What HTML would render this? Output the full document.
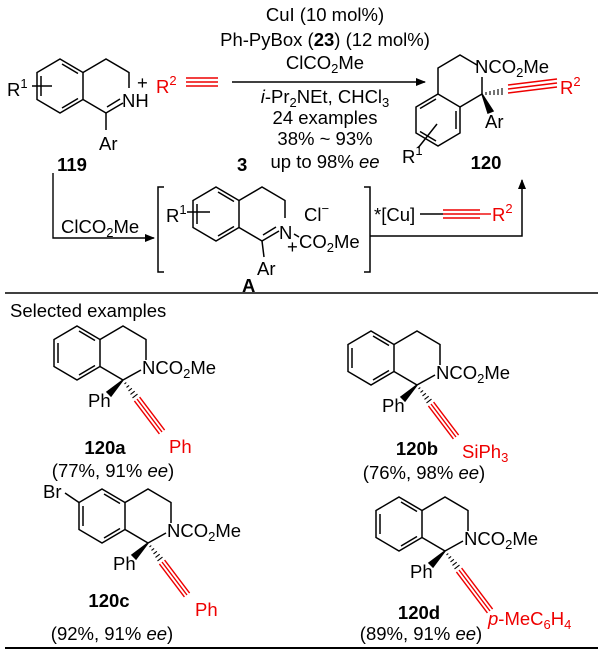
<!DOCTYPE html>
<html><head><meta charset="utf-8"><style>
html,body{margin:0;padding:0;background:#fff;}
svg{display:block;font-family:"Liberation Sans",Arial,sans-serif;}
text{font-size:18.5px;fill:#000;}
.r{fill:#e00;}
.b{font-weight:bold;}
</style></head><body>
<svg width="600" height="655" viewBox="0 0 600 655" xmlns="http://www.w3.org/2000/svg">
<defs>
<marker id="ah" markerWidth="10" markerHeight="8" refX="9" refY="4" orient="auto" markerUnits="userSpaceOnUse">
<path d="M0,0 L10,4 L0,8 z" fill="#000"/></marker>
<g id="core" stroke="#000" stroke-width="1.5" fill="none">
<polygon points="77,326 100,339.5 100,366.5 77,380 54,366.5 54,339.5"/>
<line x1="58" y1="343" x2="58" y2="363"/>
<line x1="79" y1="331" x2="95" y2="340.5"/>
<line x1="79" y1="375" x2="95" y2="365.5"/>
<polyline points="100,339.5 123,326 146,339.5 146,360"/>
<line x1="123" y1="380" x2="141" y2="370"/>
<line x1="100" y1="366.5" x2="123" y2="380"/>
<polygon points="123,380 107,392 111,396" fill="#000"/>
<g stroke-width="1.1">
<line x1="124.5" y1="383.9" x2="126.3" y2="382.5"/>
<line x1="126.5" y1="387.4" x2="129.1" y2="385.4"/>
<line x1="128.5" y1="390.9" x2="131.9" y2="388.3"/>
<line x1="130.5" y1="394.4" x2="134.7" y2="391.2"/>
<line x1="132.5" y1="397.9" x2="137.5" y2="394.1"/>
</g>
</g>
</defs>

<!-- 119 -->
<g stroke="#000" stroke-width="1.5" fill="none">
<polygon points="60,59 83,72.5 83,99.5 60,113 37,99.5 37,72.5"/>
<line x1="41" y1="76" x2="41" y2="96"/>
<line x1="62" y1="64" x2="78" y2="73.5"/>
<line x1="62" y1="108" x2="78" y2="98.5"/>
<polyline points="83,72.5 106,59 129,72.5 129,88"/>
<line x1="83" y1="99.5" x2="106" y2="113"/>
<line x1="106" y1="113" x2="123" y2="103"/>
<line x1="107" y1="107" x2="120" y2="99"/>
<line x1="106" y1="113" x2="106" y2="130"/>
<line x1="32" y1="86" x2="52" y2="86"/>
</g>
<text x="7" y="96">R<tspan dy="-8" font-size="13">1</tspan></text>
<text x="122" y="107">NH</text>
<text x="137" y="89">+</text>
<text x="99" y="150">Ar</text>
<text x="72" y="171" text-anchor="middle" class="b">119</text>
<text x="156" y="93" class="r">R<tspan dy="-8" font-size="13">2</tspan></text>
<g stroke="#e00" stroke-width="1.4"><line x1="186" y1="78" x2="218" y2="78"/><line x1="186" y1="82" x2="218" y2="82"/><line x1="186" y1="86" x2="218" y2="86"/></g>
<text x="237" y="171" class="b">3</text>

<!-- main arrow and conditions -->
<line x1="232" y1="82" x2="425" y2="82" stroke="#000" stroke-width="1.4" marker-end="url(#ah)"/>
<g text-anchor="middle">
<text x="325" y="21">CuI (10 mol%)</text>
<text x="325" y="46">Ph-PyBox (<tspan class="b">23</tspan>) (12 mol%)</text>
<text x="325" y="69">ClCO<tspan dy="4" font-size="13">2</tspan><tspan dy="-4">Me</tspan></text>
<text x="325" y="103"><tspan font-style="italic">i</tspan>-Pr<tspan dy="4" font-size="13">2</tspan><tspan dy="-4">NEt, CHCl</tspan><tspan dy="4" font-size="13">3</tspan></text>
<text x="325" y="124">24 examples</text>
<text x="325" y="145">38% ~ 93%</text>
<text x="325" y="168">up to 98% <tspan font-style="italic">ee</tspan></text>
</g>

<!-- 120 -->
<g stroke="#000" stroke-width="1.5" fill="none">
<polygon points="438,94 460,107 460,133 438,146 416,133 416,107"/>
<line x1="456" y1="111" x2="456" y2="129"/>
<line x1="436" y1="141" x2="420" y2="131.5"/>
<line x1="436" y1="99" x2="420" y2="108.5"/>
<polyline points="438,94 438,68 460,55 477,65"/>
<line x1="460" y1="107" x2="482" y2="94"/>
<line x1="482" y1="94" x2="482" y2="77"/>
<line x1="418" y1="148" x2="437" y2="124"/>
<polygon points="482,94 488,113 493,111" fill="#000"/>
<g stroke-width="1.1">
<line x1="486" y1="92" x2="486" y2="95"/>
<line x1="490" y1="91" x2="490" y2="95"/>
<line x1="494" y1="90" x2="494" y2="95"/>
<line x1="498" y1="89" x2="498" y2="95"/>
<line x1="502" y1="88" x2="502" y2="95"/>
</g>
</g>
<g stroke="#e00" stroke-width="1.4"><line x1="508" y1="85" x2="557" y2="79"/><line x1="508" y1="89" x2="557" y2="83"/><line x1="508" y1="93" x2="557" y2="87"/></g>
<text x="475" y="73">NCO<tspan dy="4" font-size="13">2</tspan><tspan dy="-4">Me</tspan></text>
<text x="560" y="94" class="r">R<tspan dy="-8" font-size="13">2</tspan></text>
<text x="485" y="128">Ar</text>
<text x="402" y="163">R<tspan dy="-8" font-size="13">1</tspan></text>
<text x="486" y="169" text-anchor="middle" class="b">120</text>

<!-- lower path -->
<polyline points="53,173 53,238 154,238" fill="none" stroke="#000" stroke-width="1.4" marker-end="url(#ah)"/>
<text x="61" y="233">ClCO<tspan dy="4" font-size="13">2</tspan><tspan dy="-4">Me</tspan></text>
<g stroke="#000" stroke-width="1.5" fill="none">
<polyline points="164,187 158,187 158,272 164,272"/>
<polyline points="364,187 370,187 370,272 364,272"/>
<polygon points="216,187 239,200.5 239,227.5 216,241 193,227.5 193,200.5"/>
<line x1="197" y1="204" x2="197" y2="224"/>
<line x1="218" y1="192" x2="234" y2="201.5"/>
<line x1="218" y1="236" x2="234" y2="226.5"/>
<polyline points="239,200.5 262,187 285,200.5 285,218"/>
<line x1="239" y1="227.5" x2="262" y2="241"/>
<line x1="262" y1="241" x2="279" y2="231"/>
<line x1="263" y1="235" x2="276" y2="227"/>
<line x1="262" y1="241" x2="264" y2="257"/>
<line x1="187" y1="212" x2="210" y2="212"/>
<line x1="294" y1="234" x2="299" y2="237"/>
<polyline points="370,236 522,236 522,180" marker-end="url(#ah)"/>
<line x1="420" y1="214" x2="443" y2="214"/>
</g>
<text x="166" y="222">R<tspan dy="-8" font-size="13">1</tspan></text>
<text x="279" y="239">N</text>
<text x="287" y="253" font-size="12">+</text>
<text x="299" y="248">CO<tspan dy="4" font-size="13">2</tspan><tspan dy="-4">Me</tspan></text>
<text x="304" y="221">Cl<tspan dy="-8" font-size="13">−</tspan></text>
<text x="257" y="275">Ar</text>
<text x="242" y="292" class="b">A</text>
<text x="374" y="221">*[Cu]</text>
<g stroke="#e00" stroke-width="1.4"><line x1="443" y1="210" x2="480" y2="210"/><line x1="443" y1="214" x2="480" y2="214"/><line x1="443" y1="218" x2="480" y2="218"/><line x1="480" y1="214" x2="491" y2="214"/></g>
<text x="492" y="221" class="r">R<tspan dy="-8" font-size="13">2</tspan></text>

<line x1="5" y1="293" x2="598" y2="293" stroke="#000" stroke-width="1.5"/>
<line x1="5" y1="648" x2="598" y2="648" stroke="#000" stroke-width="2"/>
<text x="10" y="317">Selected examples</text>

<!-- 120a -->
<use href="#core"/>
<g stroke="#e00" stroke-width="1.4"><line x1="137" y1="399" x2="162" y2="432"/><line x1="139.6" y1="397.1" x2="164.6" y2="430.1"/><line x1="134.4" y1="400.9" x2="159.4" y2="433.9"/></g>
<text x="142" y="374">NCO<tspan dy="4" font-size="13">2</tspan><tspan dy="-4">Me</tspan></text>
<text x="88" y="407">Ph</text>
<text x="169" y="453" class="r">Ph</text>
<text x="105" y="454" text-anchor="middle" class="b">120a</text>
<text x="113" y="477" text-anchor="middle">(77%, 91% <tspan font-style="italic">ee</tspan>)</text>

<!-- 120b -->
<g transform="translate(294,5)">
<use href="#core"/>
<g stroke="#e00" stroke-width="1.4"><line x1="137" y1="399" x2="162" y2="432"/><line x1="139.6" y1="397.1" x2="164.6" y2="430.1"/><line x1="134.4" y1="400.9" x2="159.4" y2="433.9"/></g>
<text x="142" y="374">NCO<tspan dy="4" font-size="13">2</tspan><tspan dy="-4">Me</tspan></text>
<text x="88" y="407">Ph</text>
<text x="168" y="453" class="r">SiPh<tspan dy="4" font-size="13">3</tspan></text>
</g>
<text x="417" y="455" text-anchor="middle" class="b">120b</text>
<text x="424" y="479" text-anchor="middle">(76%, 98% <tspan font-style="italic">ee</tspan>)</text>

<!-- 120c -->
<g transform="translate(25,163)">
<use href="#core"/>
<line x1="54" y1="339.5" x2="40" y2="330" stroke="#000" stroke-width="1.5"/>
<g stroke="#e00" stroke-width="1.4"><line x1="137" y1="399" x2="162" y2="432"/><line x1="139.6" y1="397.1" x2="164.6" y2="430.1"/><line x1="134.4" y1="400.9" x2="159.4" y2="433.9"/></g>
<text x="142" y="374">NCO<tspan dy="4" font-size="13">2</tspan><tspan dy="-4">Me</tspan></text>
<text x="88" y="407">Ph</text>
<text x="170" y="453" class="r">Ph</text>
</g>
<text x="43" y="498">Br</text>
<text x="109" y="607" text-anchor="middle" class="b">120c</text>
<text x="112" y="640" text-anchor="middle">(92%, 91% <tspan font-style="italic">ee</tspan>)</text>

<!-- 120d -->
<g transform="translate(322,171)">
<use href="#core"/>
<g stroke="#e00" stroke-width="1.4"><line x1="137" y1="399" x2="168" y2="440"/><line x1="139.6" y1="397.1" x2="170.6" y2="438.1"/><line x1="134.4" y1="400.9" x2="165.4" y2="441.9"/></g>
<text x="142" y="374">NCO<tspan dy="4" font-size="13">2</tspan><tspan dy="-4">Me</tspan></text>
<text x="88" y="407">Ph</text>
</g>
<text x="488" y="625" class="r"><tspan font-style="italic">p</tspan>-MeC<tspan dy="4" font-size="13">6</tspan><tspan dy="-4">H</tspan><tspan dy="4" font-size="13">4</tspan></text>
<text x="419" y="619" text-anchor="middle" class="b">120d</text>
<text x="421" y="640" text-anchor="middle">(89%, 91% <tspan font-style="italic">ee</tspan>)</text>
</svg>
</body></html>
